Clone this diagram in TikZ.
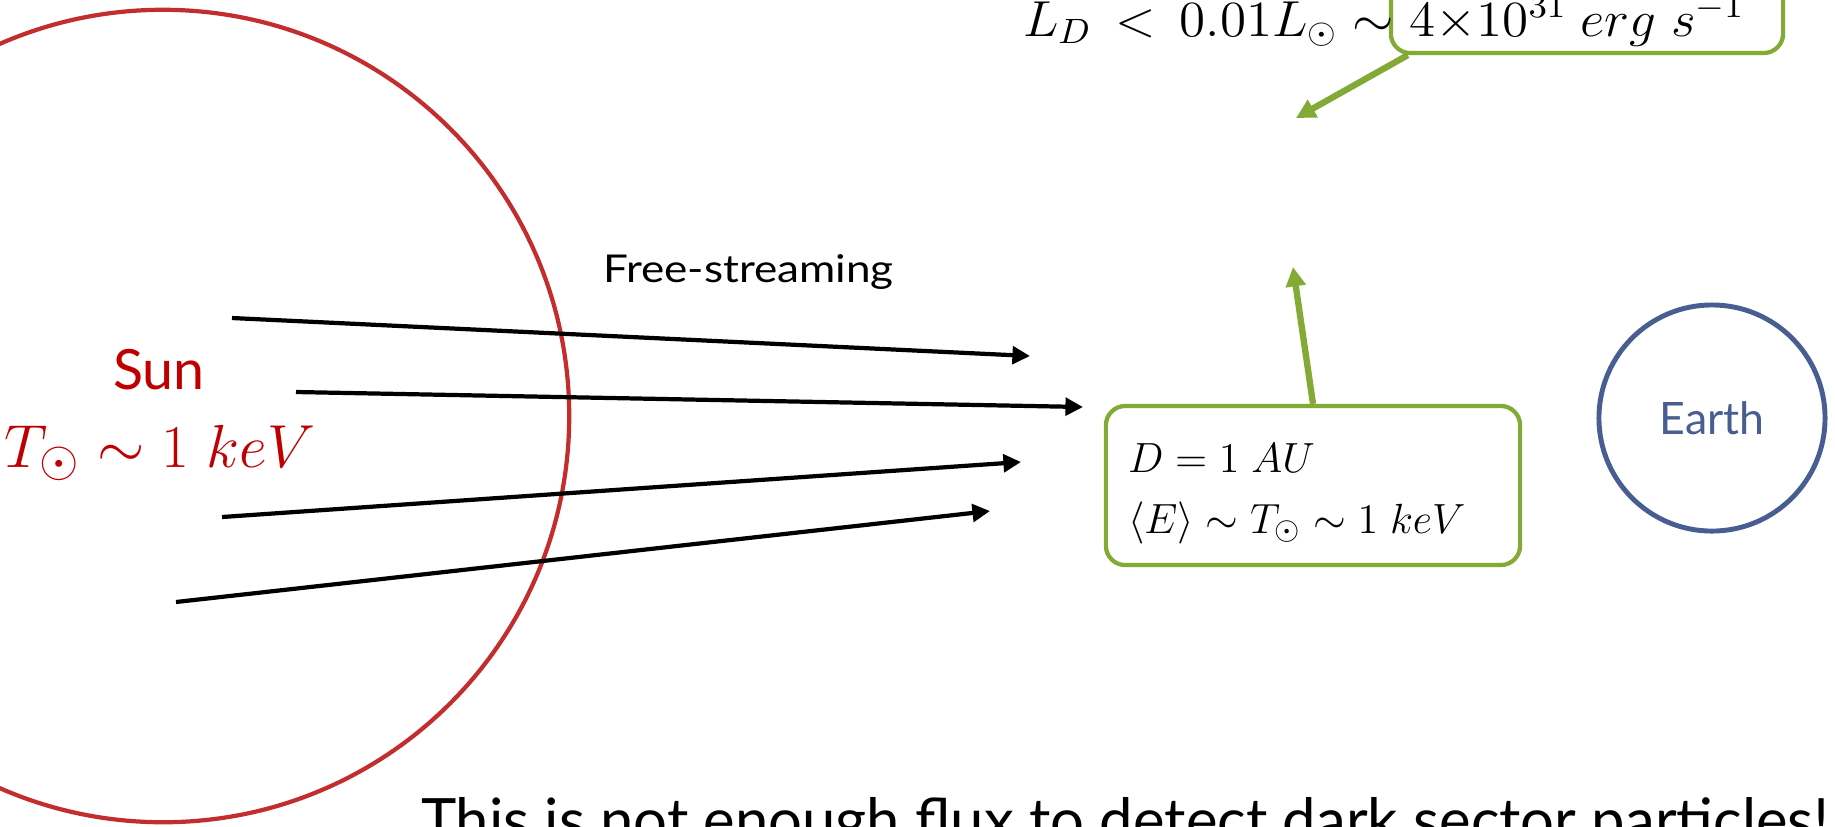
\documentclass[tikz,border=0pt]{standalone}
\usepackage{fontspec}
\setmainfont{Lato}
\usetikzlibrary{arrows.meta}
\definecolor{sunred}{RGB}{196,45,45}
\definecolor{suntext}{RGB}{192,0,0}
\definecolor{earthblue}{RGB}{72,94,146}
\definecolor{boxgreen}{RGB}{130,170,52}
\begin{document}
\begin{tikzpicture}[x=0.01cm,y=-0.01cm,
  lbl/.style={inner sep=0pt, outer sep=0pt},
  ray/.style={line width=1.2pt, -{Triangle[length=5pt,width=5pt]}},
  callout/.style={draw=boxgreen, line width=1.2pt, rounded corners=5.5pt, fill=white, inner sep=0pt},
  pointer/.style={draw=boxgreen, line width=1.8pt, -{Triangle[length=5.5pt,width=5.5pt]}},
]
\useasboundingbox (0,0) rectangle (1835,826);
\clip (0,0) rectangle (1835,826);
% Sun
\node[circle, draw=sunred, line width=1.2pt, minimum size=8.12cm, inner sep=0pt] (sun) at (163,416) {};
\node[lbl, anchor=base, text=suntext, font=\fontsize{15.8}{18}\selectfont] (sunname) at (159,389) {Sun};
\node[lbl, anchor=base, text=suntext, font=\fontsize{19}{22}\selectfont] (suntemp) at (160,467) {$T_{\odot}\sim 1\ keV$};
% Earth
\node[circle, draw=earthblue, line width=1.4pt, minimum size=2.26cm, inner sep=0pt, text=earthblue, font=\fontsize{12.7}{14}\selectfont] (earth) at (1712,418) {Earth};
% free-streaming rays
\coordinate (r1s) at (232,318); \coordinate (r1e) at (1030,356);
\coordinate (r2s) at (296,392); \coordinate (r2e) at (1083,407);
\coordinate (r3s) at (222,517); \coordinate (r3e) at (1021,462);
\coordinate (r4s) at (176,602); \coordinate (r4e) at (990,511);
\draw[ray] (r1s) -- (r1e);
\draw[ray] (r2s) -- (r2e);
\draw[ray] (r3s) -- (r3e);
\draw[ray] (r4s) -- (r4e);
\node[lbl, anchor=base west, font=\fontsize{10.9}{13}\selectfont] (fs) at (603,282) {\scalebox{1.15}[1]{Free-streaming}};
% luminosity callout
\node[callout, minimum width=3.92cm, minimum height=0.8cm] (lumbox) at (1587,13) {};
\node[lbl, anchor=base west, font=\fontsize{14}{16}\selectfont] (lum) at (1023,36) {\scalebox{1.05}[1]{$L_D\,<\,0.01L_{\odot}\sim4{\times}10^{31}\ erg\;s^{-1}$}};
\coordinate (lumtip) at (1296,118);
\draw[pointer] ([xshift=0.19cm]lumbox.south west) -- (lumtip);
% distance callout
\node[callout, minimum width=4.14cm, minimum height=1.59cm] (dbox) at (1313,485.5) {};
\node[lbl, anchor=base west, font=\fontsize{13}{15}\selectfont] (dline) at (1128,472) {$D=1\;AU$};
\node[lbl, anchor=base west, font=\fontsize{13}{15}\selectfont] (eline) at (1128,533) {$\langle E\rangle\sim T_{\odot}\sim 1\;keV$};
\coordinate (dtip) at (1293,267);
\draw[pointer] (dbox.north) -- (dtip);
% conclusion
\node[lbl, anchor=base west, font=\fontsize{17}{20}\selectfont] (concl) at (421,841) {This is not enough flux to detect dark sector particles!};
\end{tikzpicture}
\end{document}
